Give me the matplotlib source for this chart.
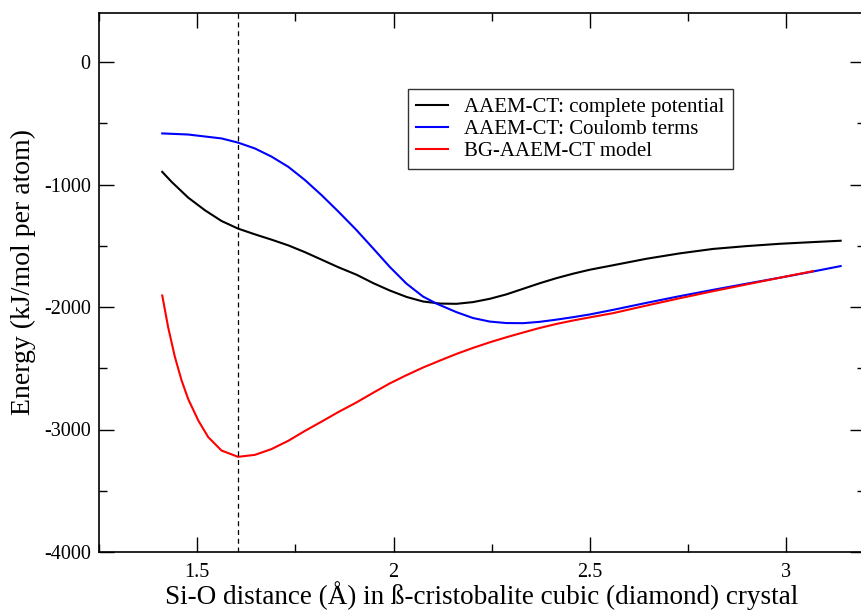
import numpy as np
import matplotlib.pyplot as plt
from matplotlib.ticker import MultipleLocator

# AAEM-CT: complete potential
x_black = [1.411, 1.435, 1.477, 1.520, 1.562, 1.604, 1.647, 1.689, 1.732, 1.774, 1.817, 1.859,
           1.906, 1.948, 1.990, 2.033, 2.075, 2.118, 2.160, 2.202, 2.245, 2.287, 2.330, 2.372,
           2.415, 2.457, 2.499, 2.559, 2.644, 2.729, 2.813, 2.898, 2.983, 3.068, 3.138]
y_black = [-897, -979, -1107, -1211, -1298, -1360, -1407, -1450, -1497, -1552, -1614, -1675,
           -1737, -1805, -1865, -1918, -1955, -1972, -1974, -1960, -1933, -1897, -1851, -1806,
           -1764, -1728, -1696, -1659, -1606, -1562, -1526, -1503, -1484, -1470, -1459]

# AAEM-CT: Coulomb terms
x_blue = [1.411, 1.477, 1.562, 1.604, 1.647, 1.689, 1.732, 1.774, 1.817, 1.859, 1.904, 1.948,
          1.990, 2.033, 2.075, 2.109, 2.160, 2.202, 2.245, 2.287, 2.330, 2.372, 2.415, 2.457,
          2.499, 2.559, 2.644, 2.729, 2.813, 2.898, 2.983, 3.068, 3.138]
y_blue = [-583, -592, -624, -658, -706, -772, -856, -963, -1088, -1220, -1367, -1522,
          -1672, -1810, -1915, -1972, -2042, -2090, -2119, -2131, -2132, -2121, -2103, -2083,
          -2061, -2023, -1966, -1911, -1860, -1810, -1761, -1710, -1666]

# BG-AAEM-CT model
x_red = [1.411, 1.426, 1.443, 1.460, 1.477, 1.503, 1.528, 1.562, 1.604, 1.647, 1.689, 1.732,
         1.774, 1.817, 1.859, 1.906, 1.948, 1.990, 2.033, 2.075, 2.118, 2.160, 2.202, 2.245,
         2.287, 2.330, 2.372, 2.415, 2.457, 2.499, 2.559, 2.644, 2.729, 2.813, 2.898, 2.983, 3.068]
y_red = [-1906, -2165, -2405, -2597, -2751, -2928, -3062, -3172, -3223, -3207, -3160, -3092,
         -3012, -2935, -2858, -2778, -2700, -2624, -2556, -2494, -2437, -2383, -2334, -2288,
         -2247, -2208, -2171, -2138, -2110, -2085, -2050, -1988, -1928, -1871, -1816, -1761, -1707]

r_eq = 1.604

plt.rcParams['font.family'] = ['Liberation Serif', 'DejaVu Serif']

fig = plt.figure(figsize=(8.62, 6.11), dpi=100)
ax = fig.add_axes([99 / 862, 59 / 611, 766 / 862, 539 / 611])

ax.plot(x_black, y_black, color='black', lw=1.5, label='AAEM-CT: complete potential')
ax.plot(x_blue, y_blue, color='blue', lw=1.5, label='AAEM-CT: Coulomb terms')
ax.plot(x_red, y_red, color='red', lw=1.5, label='BG-AAEM-CT model')
ax.axvline(r_eq, color='black', lw=0.9, ls=(0, (4, 3)))

ax.set_xlim(1.25, 3.2)
ax.set_ylim(-4000, 400)
ax.xaxis.set_minor_locator(MultipleLocator(0.25))
ax.yaxis.set_minor_locator(MultipleLocator(500))
ax.set_xticks([1.5, 2.0, 2.5, 3.0])
ax.set_xticklabels(['1.5', '2', '2.5', '3'])
ax.set_yticks([0, -1000, -2000, -3000, -4000])
ax.set_yticklabels(['0', '-1000', '-2000', '-3000', '-4000'])

ax.tick_params(which='both', direction='in', top=True, right=True, labelsize=14.5, width=1)
ax.tick_params(which='major', length=11)
ax.tick_params(axis='x', which='major', pad=8)
ax.tick_params(axis='y', which='major', pad=6)
ax.tick_params(which='minor', length=6)
for s in ax.spines.values():
    s.set_linewidth(1.2)

ax.set_xlabel('Si-O distance (Å) in ß-cristobalite cubic (diamond) crystal', fontsize=19.5)
ax.set_ylabel('Energy (kJ/mol per atom)', fontsize=20)
ax.xaxis.set_label_coords(0.5, -0.0965, transform=ax.transAxes)
ax.xaxis.label.set_va('baseline')
ax.yaxis.set_label_coords(-0.082, 0.52, transform=ax.transAxes)

leg = ax.legend(loc='upper left', bbox_to_anchor=(408 / 862, 1 - 89 / 611),
                bbox_transform=fig.transFigure, fontsize=15, frameon=True, fancybox=False,
                edgecolor='black', handlelength=1.5, handletextpad=0.8, borderpad=0.4,
                labelspacing=0.12, borderaxespad=0)
leg.get_frame().set_linewidth(1.0)

fig.savefig('out.png', dpi=100)
